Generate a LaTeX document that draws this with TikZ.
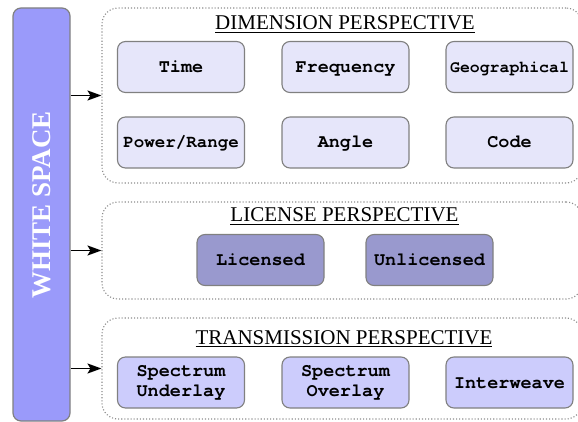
\documentclass[tikz,border=0pt]{standalone}
\usepackage{fontspec}
\setmainfont{Liberation Serif}
\setmonofont{TeX Gyre Cursor}
\usetikzlibrary{arrows.meta}
\definecolor{barfill}{RGB}{154,154,250}
\definecolor{dimfill}{RGB}{230,230,250}
\definecolor{licfill}{RGB}{153,153,206}
\definecolor{trfill}{RGB}{204,204,252}
\definecolor{edgegray}{RGB}{128,128,128}
\definecolor{dotgray}{RGB}{140,140,140}
\tikzset{
  itembox/.style={draw=edgegray, line width=1.1pt, rounded corners=8pt,
    minimum width=127pt, minimum height=51pt, inner sep=2pt, align=center,
    font=\fontsize{18.5}{20}\selectfont\ttfamily\bfseries},
  oneline/.style={text height=11pt, text depth=0pt},
  dimbox/.style={itembox, oneline, fill=dimfill},
  licbox/.style={itembox, oneline, fill=licfill},
  trbox/.style={itembox, fill=trfill},
  groupbox/.style={draw=dotgray, dotted, line width=1.1pt, rounded corners=16pt,
    minimum width=480pt, inner sep=0pt},
  grouptitle/.style={anchor=base, inner sep=0pt, font=\fontsize{21}{24}\selectfont},
  feed/.style={-{Stealth[length=14pt,width=10pt,inset=3pt]}, line width=1.6pt, black}
}
\begin{document}
\begin{tikzpicture}[x=1pt,y=-1pt]
\useasboundingbox (0,0) rectangle (578,422);
\begin{scope}
\clip (0,0) rectangle (578,422);
% white space bar
\node[draw=edgegray, line width=1.2pt, fill=barfill, rounded corners=8pt,
  minimum width=57pt, minimum height=413pt, inner sep=0pt] (bar) at (41.5,214.5) {};
\node[rotate=90, text=white, font=\fontsize{27}{30}\selectfont\bfseries, inner sep=0pt] (wslabel) at (42,205) {WHITE SPACE};
% groups
\node[groupbox, minimum height=175pt] (dim) at (342,95.5) {};
\node[groupbox, minimum height=97pt] (lic) at (342,250.5) {};
\node[groupbox, minimum height=101pt] (tr) at (342,368.5) {};
\end{scope}
% titles
\node[grouptitle] (dimtitle) at (345,30) {\underline{DIMENSION PERSPECTIVE}};
\node[grouptitle] (lictitle) at (344.5,222) {\underline{LICENSE PERSPECTIVE}};
\node[grouptitle] (trtitle) at (344,344) {\underline{TRANSMISSION PERSPECTIVE}};
% dimension items
\node[dimbox] (time) at (181,67) {Time};
\node[dimbox] (freq) at (345.5,67) {Frequency};
\node[dimbox, font=\fontsize{16.5}{19}\selectfont\ttfamily\bfseries] (geo) at (509.5,67) {Geographical};
\node[dimbox, font=\fontsize{17.5}{20}\selectfont\ttfamily\bfseries] (power) at (181,142.5) {Power/Range};
\node[dimbox] (angle) at (345.5,142.5) {Angle};
\node[dimbox] (code) at (509.5,142.5) {Code};
% license items
\node[licbox] (licd) at (260.5,260) {Licensed};
\node[licbox] (unlicd) at (429.5,260) {Unlicensed};
% transmission items
\node[trbox] (under) at (181,382.5) {Spectrum\\Underlay};
\node[trbox] (over) at (345.5,382.5) {Spectrum\\Overlay};
\node[trbox, oneline] (inter) at (509.5,382.5) {Interweave};
% arrows
\draw[feed] (bar.east |- dim.west) -- (dim.west);
\draw[feed] (bar.east |- lic.west) -- (lic.west);
\draw[feed] (bar.east |- tr.west) -- (tr.west);
\end{tikzpicture}
\end{document}
